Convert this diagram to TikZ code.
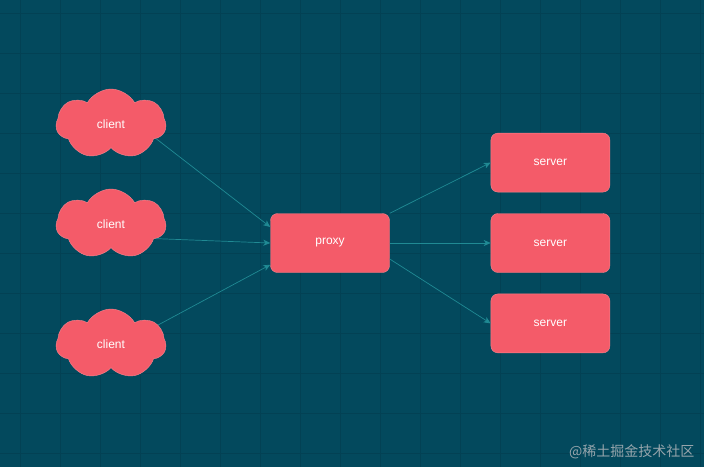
\documentclass[tikz,border=0pt]{standalone}
\usepackage{fontspec}
\setmainfont{Liberation Sans}
\newfontfamily\cjkfont{Noto Sans CJK SC}
\usepackage{xcolor}
\usetikzlibrary{shapes.symbols, arrows.meta, positioning}

\definecolor{bgteal}{RGB}{3,73,93}
\definecolor{gridteal}{RGB}{3,65,84}
\definecolor{nodered}{RGB}{244,91,105}
\definecolor{linkteal}{RGB}{32,138,148}
\definecolor{markgray}{RGB}{150,165,172}

\begin{document}
\begin{tikzpicture}[x=1pt, y=-1pt, node distance=21pt,
    gridline/.style={draw=gridteal, line width=0.5pt},
    clientcloud/.style={cloud, cloud puffs=7, cloud puff arc=120, aspect=1.6, fill=nodered, draw=nodered!75!white, thin, minimum width=110pt, minimum height=70pt, inner sep=0pt, text=white, font=\fontsize{12}{14}\selectfont},
    hostbox/.style={rectangle, rounded corners=7pt, fill=nodered, draw=nodered!75!white, thin, minimum width=119pt, minimum height=59pt, text=white, font=\fontsize{12}{14}\selectfont},
    link/.style={draw=linkteal, line width=0.7pt, -{Stealth[length=7pt, width=6pt, inset=2pt]}}]

    % background and grid
    \fill[bgteal] (0,0) rectangle (704,467);
    \useasboundingbox (0,0) rectangle (704,467);
    \foreach \gx in {20,60,...,700} \draw[gridline] (\gx,0) -- (\gx,467);
    \foreach \gy in {13,53,...,453} \draw[gridline] (0,\gy) -- (704,\gy);

    % nodes
    \node [clientcloud] (client1) at (111,124) {client};
    \node [clientcloud] (client2) at (111,224) {client};
    \node [clientcloud] (client3) at (111,344) {client};
    \node [hostbox] (proxy) at (330,243) {proxy};
    \node [hostbox, right=101pt of proxy] (server2) {server};
    \node [hostbox, above=of server2] (server1) {server};
    \node [hostbox, below=of server2] (server3) {server};

    % connectors
    \path [link] (client1.-18) -- (proxy.165);
    \path [link] (client2.-18) -- (proxy.west);
    \path [link] (client3.22) -- (proxy.200);
    \path [link] (proxy.north east) -- (server1.west);
    \path [link] (proxy.east) -- (server2.west);
    \path [link] (proxy.-15) -- (server3.west);

    % watermark
    \node [text=markgray, font=\cjkfont\fontsize{14}{16}\selectfont, anchor=east] (mark) at (698,452) {@稀土掘金技术社区};
\end{tikzpicture}
\end{document}
